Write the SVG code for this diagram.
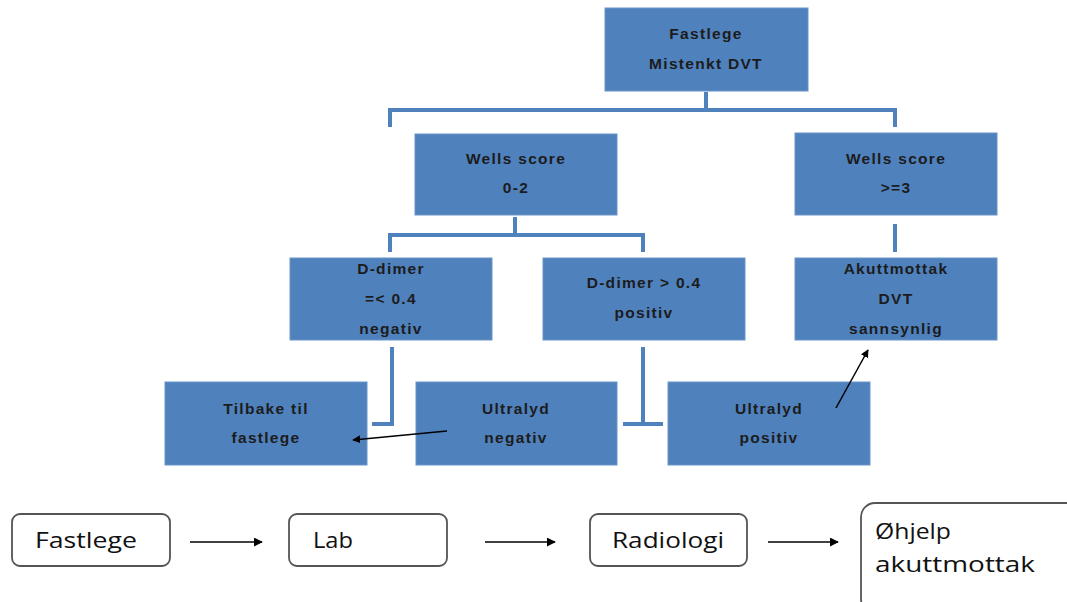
<svg xmlns="http://www.w3.org/2000/svg" width="1067" height="602" viewBox="0 0 1067 602">
<style>
.box{fill:#4F81BD;stroke:#6A94C8;stroke-width:1}
.bt{font-family:"Liberation Sans",Arial,sans-serif;font-size:15.5px;font-weight:bold;fill:#1c1c1c;text-anchor:middle;letter-spacing:1.3px}
.con{fill:none;stroke:#4F81BD;stroke-width:4}
.arr{fill:none;stroke:#000;stroke-width:1.5}
.fb{fill:#fff;stroke:#555;stroke-width:1.8}
.ft{font-family:"Open Sans","Liberation Sans",sans-serif;font-size:21px;fill:#111}
</style>
<defs>
<marker id="ah" viewBox="0 0 10 10" refX="9" refY="5" markerWidth="8" markerHeight="8" orient="auto" markerUnits="userSpaceOnUse">
<path d="M0,0 L10,5 L0,10 z" fill="#000"/>
</marker>
<marker id="ah2" viewBox="0 0 10 10" refX="9" refY="5" markerWidth="9" markerHeight="9" orient="auto" markerUnits="userSpaceOnUse">
<path d="M0,0 L10,5 L0,10 z" fill="#000"/>
</marker>
</defs>
<g id="n-fastlege-top"><rect class="box" x="605" y="8" width="203" height="83"/><text class="bt" x="706" y="39">Fastlege</text><text class="bt" x="706" y="69">Mistenkt DVT</text></g>
<g id="n-wells02"><rect class="box" x="415" y="134" width="202" height="81"/><text class="bt" x="516" y="164">Wells score</text><text class="bt" x="516" y="193">0-2</text></g>
<g id="n-wells3"><rect class="box" x="795" y="133" width="202" height="82"/><text class="bt" x="896" y="164">Wells score</text><text class="bt" x="896" y="193">&gt;=3</text></g>
<g id="n-ddneg"><rect class="box" x="290" y="258" width="202" height="82"/><text class="bt" x="391" y="274">D-dimer</text><text class="bt" x="391" y="304">=&lt; 0.4</text><text class="bt" x="391" y="334">negativ</text></g>
<g id="n-ddpos"><rect class="box" x="543" y="258" width="202" height="82"/><text class="bt" x="644" y="288">D-dimer &gt; 0.4</text><text class="bt" x="644" y="318">positiv</text></g>
<g id="n-akutt"><rect class="box" x="795" y="258" width="202" height="82"/><text class="bt" x="896" y="274">Akuttmottak</text><text class="bt" x="896" y="304">DVT</text><text class="bt" x="896" y="334">sannsynlig</text></g>
<g id="n-tilbake"><rect class="box" x="165" y="382" width="202" height="83"/><text class="bt" x="266" y="414">Tilbake til</text><text class="bt" x="266" y="443">fastlege</text></g>
<g id="n-ulneg"><rect class="box" x="416" y="382" width="201" height="83"/><text class="bt" x="516" y="414">Ultralyd</text><text class="bt" x="516" y="443">negativ</text></g>
<g id="n-ulpos"><rect class="box" x="668" y="382" width="202" height="83"/><text class="bt" x="769" y="414">Ultralyd</text><text class="bt" x="769" y="443">positiv</text></g>
<g id="f-fastlege"><rect class="fb" x="12" y="514" width="158" height="52" rx="8"/><text class="ft" x="35" y="548" textLength="102" lengthAdjust="spacingAndGlyphs">Fastlege</text></g>
<g id="f-lab"><rect class="fb" x="289" y="514" width="158" height="52" rx="8"/><text class="ft" x="313" y="548" textLength="40" lengthAdjust="spacingAndGlyphs">Lab</text></g>
<g id="f-radiologi"><rect class="fb" x="590" y="514" width="157" height="52" rx="8"/><text class="ft" x="612" y="548" textLength="112" lengthAdjust="spacingAndGlyphs">Radiologi</text></g>
<g id="f-ohjelp"><rect class="fb" x="861" y="503" width="220" height="110" rx="14"/><text class="ft" x="875" y="539" textLength="76" lengthAdjust="spacingAndGlyphs">Øhjelp</text><text class="ft" x="875" y="572" textLength="160" lengthAdjust="spacingAndGlyphs">akuttmottak</text></g>
<g id="connectors">
<path class="con" d="M706,92 V110 M390,110 H897 M390,108 V127 M895,108 V127"/>
<path class="con" d="M515,217 V235 M388,235 H645 M390,233 V252 M643,233 V252"/>
<path class="con" d="M895,224 V252"/>
<path class="con" d="M392,347 V424 H372"/>
<path class="con" d="M643,347 V424 M623,424 H663"/>
<line class="arr" x1="447" y1="431" x2="353" y2="440" marker-end="url(#ah)"/>
<line class="arr" x1="836" y1="408" x2="868" y2="350" marker-end="url(#ah)"/>
<line class="arr" x1="190" y1="542" x2="262" y2="542" marker-end="url(#ah2)"/>
<line class="arr" x1="485" y1="542" x2="555" y2="542" marker-end="url(#ah2)"/>
<line class="arr" x1="768" y1="542" x2="838" y2="542" marker-end="url(#ah2)"/>
</g>
</svg>
